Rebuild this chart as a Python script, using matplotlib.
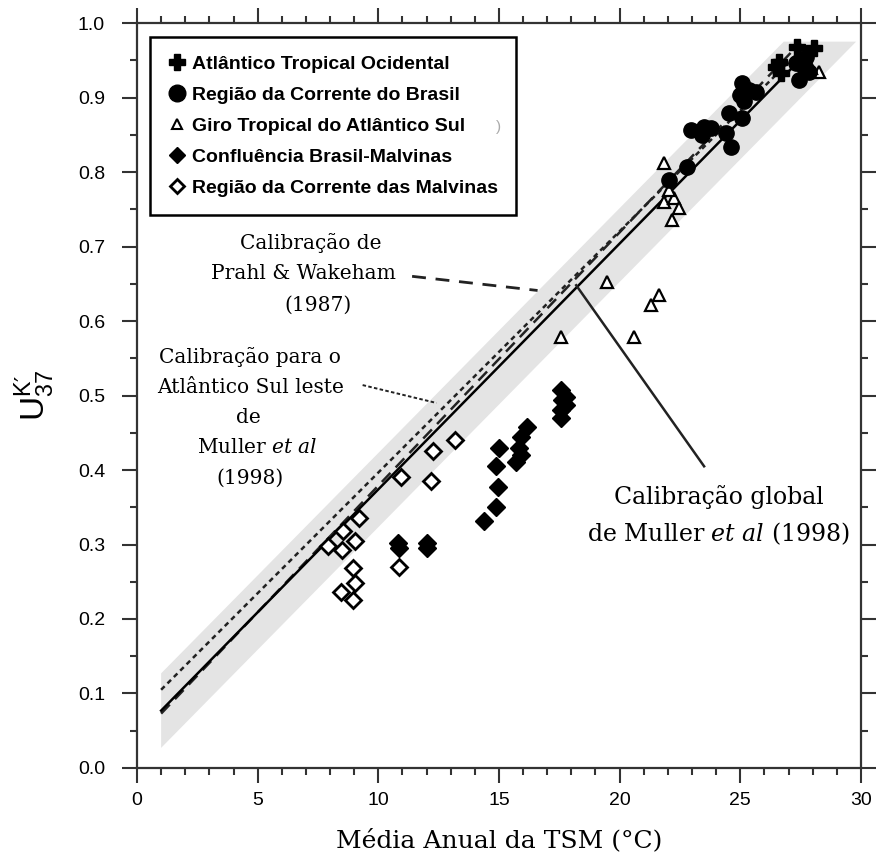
import matplotlib
matplotlib.use("Agg")
import matplotlib.pyplot as plt
from matplotlib.lines import Line2D
from matplotlib.patches import Polygon
from matplotlib.ticker import MultipleLocator, FormatStrFormatter

plt.rcParams["font.family"] = ["Liberation Sans", "DejaVu Sans"]
plt.rcParams["mathtext.fontset"] = "custom"
plt.rcParams["mathtext.rm"] = "DejaVu Serif"
plt.rcParams["mathtext.it"] = "DejaVu Serif:italic"
plt.rcParams["mathtext.sf"] = "Liberation Sans"

# Atlântico Tropical Ocidental
ato_t = [26.6, 26.48, 27.35, 28.05, 26.69]
ato_u = [0.948, 0.941, 0.968, 0.966, 0.933]

# Região da Corrente do Brasil
rcb_t = [22.05, 22.80, 22.96, 23.41, 23.79, 23.5, 24.41, 24.62, 24.53, 25.07,
         25.16, 24.99, 25.07, 25.36, 25.65, 27.43, 27.64, 27.31, 27.72, 27.85]
rcb_u = [0.789, 0.807, 0.856, 0.850, 0.859, 0.860, 0.852, 0.834, 0.879, 0.872,
         0.895, 0.903, 0.919, 0.910, 0.907, 0.923, 0.941, 0.946, 0.954, 0.934]

# Giro Tropical do Atlântico Sul
gtas_t = [21.85, 21.85, 22.26, 22.47, 22.18, 22.05, 19.49, 21.64, 21.31,
          20.60, 17.58, 28.26, 27.93]
gtas_u = [0.812, 0.760, 0.765, 0.752, 0.736, 0.776, 0.652, 0.635, 0.621,
          0.579, 0.579, 0.934, 0.940]

# Confluência Brasil-Malvinas
cbm_t = [10.80, 10.85, 12.00, 12.02, 15.02, 14.89, 14.94, 14.89, 14.40,
         16.18, 15.93, 15.85, 15.72, 15.93, 17.58, 17.63, 17.58, 17.58, 17.79, 17.79]
cbm_u = [0.302, 0.295, 0.302, 0.295, 0.430, 0.405, 0.377, 0.350, 0.332,
         0.458, 0.444, 0.430, 0.411, 0.420, 0.507, 0.494, 0.481, 0.470, 0.498, 0.487]

# Região da Corrente das Malvinas
rcm_t = [9.20, 8.53, 7.91, 8.51, 9.02, 8.95, 9.02, 8.47, 8.95, 10.95,
         12.26, 12.19, 10.85, 13.16]
rcm_u = [0.335, 0.318, 0.298, 0.292, 0.305, 0.268, 0.248, 0.236, 0.226, 0.390,
         0.425, 0.385, 0.270, 0.440]

# calibration lines (end points)
global_t = [1.0, 28.0]
global_u = [0.077, 0.968]
prahl_t = [1.0, 27.5]
prahl_u = [0.073, 0.974]
sul_t = [1.0, 27.7]
sul_u = [0.105, 0.970]

# error envelope around the global calibration
band_t = [1.0, 1.0, 26.8, 29.8]
band_u = [0.027, 0.127, 0.975, 0.975]

labels = ["Atlântico Tropical Ocidental", "Região da Corrente do Brasil",
          "Giro Tropical do Atlântico Sul", "Confluência Brasil-Malvinas",
          "Região da Corrente das Malvinas"]

fig = plt.figure(figsize=(8.77, 8.63), dpi=100)
ax = fig.add_axes([0.1562, 0.1101, 0.8255, 0.8632])

ax.add_patch(Polygon(list(zip(band_t, band_u)), closed=True,
                     facecolor="#e4e4e4", edgecolor="none", zorder=1))

ax.plot(sul_t, sul_u, color="#222222", lw=1.8, dashes=(2.0, 1.6), zorder=2)
ax.plot(prahl_t, prahl_u, color="#222222", lw=1.8, dashes=(5, 3), zorder=2)
ax.plot(global_t, global_u, color="black", lw=1.8, zorder=2)

ax.plot(rcm_t, rcm_u, "D", ms=8, mfc="white", mec="black", mew=2, ls="none", zorder=3)
ax.plot(cbm_t, cbm_u, "D", ms=9, color="black", ls="none", zorder=4)
ax.plot(gtas_t, gtas_u, "^", ms=8, mfc="white", mec="black", mew=1.6, ls="none", zorder=4)
ax.plot(rcb_t, rcb_u, "o", ms=11, color="black", ls="none", zorder=4)
ax.plot(ato_t, ato_u, "P", ms=11, color="black", ls="none", zorder=5)

# leaders from the labels to the lines
ax.plot([11.4, 16.6], [0.660, 0.641], color="#222222", lw=2, dashes=(5, 3.5), zorder=2)
ax.plot([9.35, 12.41], [0.514, 0.490], color="#222222", lw=1.4, dashes=(1.8, 1.2), zorder=2)
ax.plot([18.2, 23.5], [0.648, 0.405], color="#222222", lw=1.8, zorder=2)

serif = "DejaVu Serif"
small = 14.5
big = 17
ax.text(7.2, 0.705, "Calibração de", family=serif, fontsize=small, ha="center", va="center")
ax.text(6.9, 0.664, "Prahl & Wakeham", family=serif, fontsize=small, ha="center", va="center")
ax.text(7.5, 0.621, "(1987)", family=serif, fontsize=small, ha="center", va="center")

ax.text(4.7, 0.552, "Calibração para o", family=serif, fontsize=small, ha="center", va="center")
ax.text(4.7, 0.511, "Atlântico Sul leste", family=serif, fontsize=small, ha="center", va="center")
ax.text(4.6, 0.470, "de", family=serif, fontsize=small, ha="center", va="center")
ax.text(5.0, 0.430, r"Muller $\mathit{et\ al}$", family=serif, fontsize=small,
        ha="center", va="center")
ax.text(4.7, 0.389, "(1998)", family=serif, fontsize=small, ha="center", va="center")

ax.text(24.1, 0.364, "Calibração global", family=serif, fontsize=big, ha="center", va="center")
ax.text(24.1, 0.315, r"de Muller $\mathit{et\ al}$ (1998)", family=serif, fontsize=big,
        ha="center", va="center")

ax.set_xlim(0, 30)
ax.set_ylim(0, 1.0)
ax.xaxis.set_major_locator(MultipleLocator(5))
ax.xaxis.set_minor_locator(MultipleLocator(1))
ax.yaxis.set_major_locator(MultipleLocator(0.1))
ax.yaxis.set_minor_locator(MultipleLocator(0.05))
ax.yaxis.set_major_formatter(FormatStrFormatter("%.1f"))
ax.tick_params(which="both", direction="out", top=True, right=True,
               width=1.5, colors="#333333", labelcolor="black", labelsize=14)
ax.tick_params(which="major", length=11, pad=6)
ax.tick_params(axis="y", which="major", pad=12)
ax.tick_params(which="minor", length=5)
for s in ax.spines.values():
    s.set_linewidth(1.6)
    s.set_color("#333333")

ax.set_xlabel("Média Anual da TSM (°C)", family=serif, fontsize=18, labelpad=14)
ax.set_ylabel(r"$\mathsf{U}^{\mathsf{K}\prime}_{\mathsf{37}}$", fontsize=24, labelpad=16)

handles = [
    Line2D([], [], marker="P", ms=12, color="black", ls="none"),
    Line2D([], [], marker="o", ms=12, color="black", ls="none"),
    Line2D([], [], marker="^", ms=7, mfc="white", mec="black", mew=1.5, ls="none"),
    Line2D([], [], marker="D", ms=8, color="black", ls="none"),
    Line2D([], [], marker="D", ms=7, mfc="white", mec="black", mew=2, ls="none"),
]
leg = ax.legend(handles, labels, loc="upper left", bbox_to_anchor=(0.018, 0.981),
                borderaxespad=0, frameon=True, fancybox=False, edgecolor="black",
                framealpha=1, handlelength=0.9, handletextpad=0.3, labelspacing=0.68,
                borderpad=0.95,
                prop={"family": "Liberation Sans", "weight": "bold", "size": 14})
leg.get_frame().set_linewidth(1.8)
leg.set_zorder(6)

# stray bracket sitting inside the key
ax.text(0.5, 0.86, ")", transform=ax.transAxes, fontsize=11, color="#aaaaaa",
        ha="center", va="center", zorder=7)

fig.savefig("out.png", dpi=100)
